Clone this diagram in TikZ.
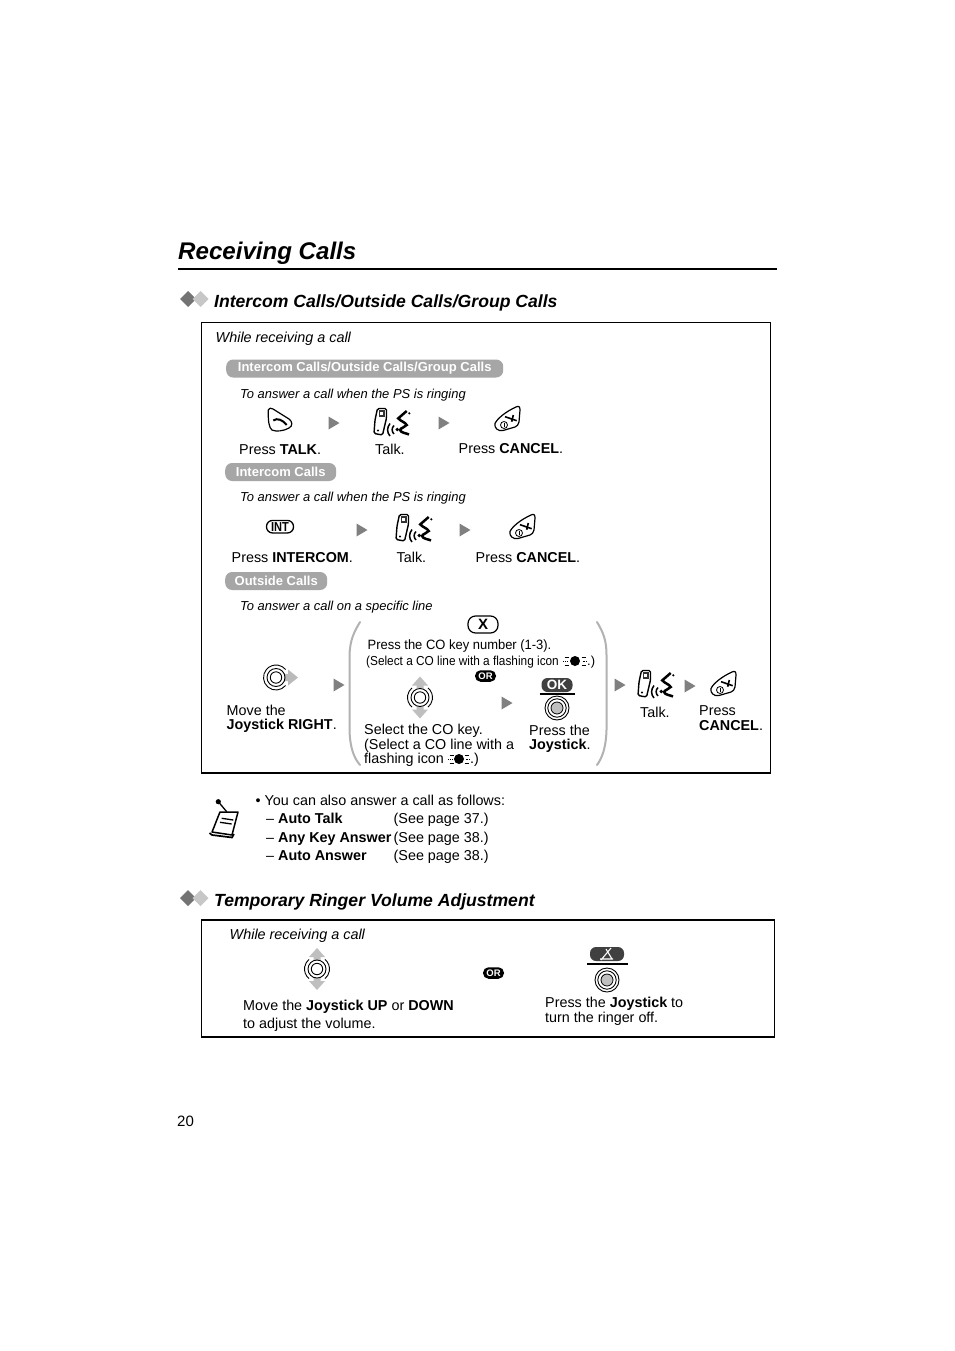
\documentclass[tikz,border=0pt]{standalone}
\usepackage{fontspec}
\setmainfont{Liberation Sans}
\newcommand{\fs}[1]{\fontsize{#1}{#1}\selectfont}
\tikzset{x=1pt,y=-1pt,
 body/.style={anchor=base west,inner sep=0pt,font=\fs{14.35}},
 ital/.style={anchor=base west,inner sep=0pt,font=\fs{14.4}\itshape},
 small/.style={anchor=base west,inner sep=0pt,font=\fs{12.95}\itshape},
 heading/.style={anchor=base west,inner sep=0pt,font=\fs{17.6}\bfseries\itshape},
 pill/.style={fill=black!35,rounded corners=7pt,text=white,font=\fs{13}\bfseries,inner sep=0pt,minimum height=18pt,anchor=west},
 ornode/.style={fill=black,rounded corners=5.5pt,text=white,font=\fs{9.5}\bfseries,inner sep=0pt,minimum width=21pt,minimum height=11.5pt},
 panel/.style={draw=black,line width=1.2pt},
 brace/.style={draw=black!30,line width=2pt,line cap=round}
}
\newcommand{\tri}[2]{\fill[black!50] (#1-5.5,#2-6.5) -- (#1+5.5,#2) -- (#1-5.5,#2+6.5) -- cycle;}
\newcommand{\dia}[2]{\fill[black!55] (#1-8,#2) -- (#1,#2-8) -- (#1+8,#2) -- (#1,#2+8) -- cycle;
 \fill[black!22] (#1+4.5,#2) -- (#1+12.5,#2-8) -- (#1+20.5,#2) -- (#1+12.5,#2+8) -- cycle;}
\newcommand{\joyin}[2]{\draw[line width=.9pt] (#1,#2) circle (5.7) (#1,#2) circle (9);}
\newcommand{\joyud}[2]{\draw[line width=.9pt] (#1,#2) ++(-50:12.5) arc (-50:50:12.5);
 \draw[line width=.9pt] (#1,#2) ++(130:12.5) arc (130:230:12.5);
 \fill[black!25] (#1-8,#2-12) -- (#1,#2-21) -- (#1+8,#2-12) -- (#1+3.5,#2-12) -- (#1+3.5,#2-9) -- (#1-3.5,#2-9) -- (#1-3.5,#2-12) -- cycle;
 \fill[black!25] (#1-8,#2+12) -- (#1,#2+21) -- (#1+8,#2+12) -- (#1+3.5,#2+12) -- (#1+3.5,#2+9) -- (#1-3.5,#2+9) -- (#1-3.5,#2+12) -- cycle;
 \joyin{#1}{#2}}
\newcommand{\joyr}[2]{\draw[line width=.9pt] (#1,#2) ++(40:12.5) arc (40:320:12.5);
 \fill[black!27] (#1+12,#2-8) -- (#1+22,#2) -- (#1+12,#2+8) -- (#1+12,#2+3.5) -- (#1+9,#2+3.5) -- (#1+9,#2-3.5) -- (#1+12,#2-3.5) -- cycle;
 \joyin{#1}{#2}}
\newcommand{\joypush}[2]{\draw[line width=.9pt] (#1,#2) circle (12) (#1,#2) circle (9.2);
 \fill[black!25,draw=black,line width=.8pt] (#1,#2) circle (6);}
\newcommand{\talkkey}[2]{\begin{scope}[shift={(#1,#2)}]
 \draw[line width=1.2pt,line join=round] (-11.7,-9) .. controls (-11,-11.5) and (-9,-11) .. (-7,-10) -- (9,0) .. controls (12.5,2.5) and (13,7) .. (9,9) .. controls (4,12) and (-4,13) .. (-8,11) .. controls (-11,9) and (-12,2) .. (-11.7,-9) -- cycle;
 \draw[line width=2pt] (-6.7,1.5) .. controls (-3,-1.5) and (3,1) .. (6.7,6);
 \end{scope}}
\newcommand{\cancelkey}[2]{\begin{scope}[shift={(#1,#2)}]
 \draw[line width=1.2pt,line join=round] (8,-12) .. controls (11,-13.5) and (12,-12) .. (12,-9) -- (11,3) .. controls (10.5,6) and (9,7) .. (7,8) -- (-5,11.5) .. controls (-10,12.5) and (-14,9) .. (-13,4.5) .. controls (-11,0) and (-3,-7) .. (8,-12) -- cycle;
 \draw[line width=.8pt] (-4,6) circle (3.5);
 \draw[line width=.8pt] (-4,4.3) -- (-4,7.7);
 \draw[line width=1.6pt] (-3,-2.3) -- (8.7,1.7);
 \draw[line width=1.6pt] (5.3,-4) -- (3.7,2.7);
 \end{scope}}
\newcommand{\talkicon}[2]{\begin{scope}[shift={(#1,#2)}]
 \draw[line width=1.4pt,rounded corners=1.5pt] (-13.5,-14.5) -- (-4.5,-14.5) -- (-4.5,-5) -- (-8.5,12) -- (-17,10.5) -- (-16,-3) -- cycle;
 \fill[black!80] (-12.2,-13) rectangle (-6,-6);
 \fill[white] (-10.6,-11.5) rectangle (-7.8,-8.5);
 \fill (-13,7.5) circle (1.1);
 \draw[line width=1.5pt] (-1,0.5) .. controls (-4.2,4.5) and (-4.2,9.5) .. (-1,13);
 \draw[line width=1.5pt] (3,2.5) .. controls (.5,5) and (.5,8.5) .. (3,11);
 \fill (6.3,6.5) circle (1.9);
 \draw[line width=2.5pt,line join=miter] (15.7,-12) -- (7.3,-4.7) .. controls (9,-2) and (14,-1) .. (15.7,2) .. controls (14,4.5) and (10,4.5) .. (9,7) .. controls (10,10) and (15,10) .. (18,11.5);
 \fill (18.3,-9.7) circle (1.2);
 \end{scope}}
\newcommand{\flash}[3]{\fill (#1,#2) circle (5);
 \foreach \a/\b in {1.5/-4,0/0,1.5/4}{\draw[line width=.7pt,dash pattern=on 1.3pt off .6pt] (#1-#3+\a,#2+\b) -- +(4,0); \draw[line width=.7pt,dash pattern=on 1.3pt off .6pt] (#1+#3-\a,#2+\b) -- +(-4,0);}}
\begin{document}
\begin{tikzpicture}
\useasboundingbox (0,0) rectangle (954,1351);
\fill[white] (0,0) rectangle (954,1351);

\node[anchor=base west,inner sep=0pt,font=\fs{24.1}\bfseries\itshape] (title) at (178,259.5) {Receiving Calls};
\coordinate (ruleL) at (178,269); \coordinate (ruleR) at (777,269);
\draw[line width=2pt] (ruleL) -- (ruleR);

\dia{188}{299}
\node[heading] (h1) at (214,307) {Intercom Calls/Outside Calls/Group Calls};
\draw[panel] (201.5,322.5) rectangle (770.5,773);
\node[ital] (w1) at (215.5,342) {While receiving a call};

\node[pill,minimum width=277pt] (p1) at (226,368.5) {Intercom Calls/Outside Calls/Group Calls};
\node[small] (a1) at (240,398) {To answer a call when the PS is ringing};
\talkkey{280}{419}
\tri{334}{423}
\talkicon{391}{423}
\tri{444}{423}
\cancelkey{508}{419}
\node[body] (t1) at (239,454) {Press \textbf{TALK}.};
\node[body] (t2) at (375,454) {Talk.};
\node[body] (t3) at (458.5,453) {Press \textbf{CANCEL}.};

\node[pill,minimum width=111pt] (p2) at (225,472) {Intercom Calls};
\node[small] (a2) at (240,501) {To answer a call when the PS is ringing};
\node[draw=black,line width=1.3pt,rounded corners=6pt,minimum width=27pt,minimum height=12.5pt,inner sep=0pt,font=\fs{13}\bfseries] (int) at (280,526.7) {\addfontfeature{FakeStretch=.85}INT};
\tri{362}{530}
\talkicon{413}{529}
\tri{465}{530}
\cancelkey{523}{527}
\node[body] (t4) at (231.5,562) {Press \textbf{INTERCOM}.};
\node[body] (t5) at (396.5,562) {Talk.};
\node[body] (t6) at (475.5,562) {Press \textbf{CANCEL}.};

\node[pill,minimum width=102pt] (p3) at (225,581) {Outside Calls};
\node[small] (a3) at (240,610) {To answer a call on a specific line};

\joyr{276}{677.5}
\tri{339}{685}
\node[body] (t7) at (226.5,715) {Move the};
\node[body] (t8) at (226.5,729) {\textbf{Joystick RIGHT}.};

\draw[brace] (360,622) .. controls (354,632) and (350,640) .. (349.5,655) -- (349.5,730) .. controls (350,748) and (354,758) .. (360,765);
\draw[brace] (597,622) .. controls (603,632) and (606.5,640) .. (606.5,655) -- (606.5,730) .. controls (606,748) and (602,758) .. (597,765);

\node[draw=black,line width=1.2pt,rounded corners=7.5pt,minimum width=30pt,minimum height=17pt,inner sep=0pt,font=\fs{15}\bfseries] (xkey) at (483,624.5) {X};
\node[anchor=base west,inner sep=0pt,font=\fs{13.5}] (c1) at (367.5,649) {\addfontfeature{FakeStretch=.96}Press the CO key number (1-3).};
\node[anchor=base west,inner sep=0pt,font=\fs{13}] (c2) at (366,665) {\addfontfeature{FakeStretch=.91}(Select a CO line with a flashing icon};
\flash{575}{661}{12}
\node[anchor=base west,inner sep=0pt,font=\fs{13}] (c3) at (587,665) {.)};
\node[ornode] (or1) at (485.5,676) {OR};

\joyud{420}{697.5}
\tri{507}{703}
\node[fill=black!75,rounded corners=6pt,text=white,font=\fs{13.5}\bfseries,inner sep=0pt,minimum width=31pt,minimum height=14pt] (ok) at (557,685) {OK};
\coordinate (okL) at (539.5,694); \coordinate (okR) at (575,694);
\draw[line width=1.6pt] (okL) -- (okR);
\joypush{557}{708}
\node[body] (c4) at (364,734.5) {Select the CO key.};
\node[body] (c5) at (364,749) {(Select a CO line with a};
\node[body] (c6) at (364,763) {flashing icon};
\flash{459}{759}{11}
\node[body] (c7) at (470,763) {.)};
\node[body] (c8) at (529,735) {Press the};
\node[body] (c9) at (529,749) {\textbf{Joystick}.};

\tri{620}{685}
\talkicon{655}{685}
\tri{690}{686}
\cancelkey{724}{684}
\node[body] (t9) at (640,717) {Talk.};
\node[body] (t10) at (699,715) {Press};
\node[body] (t11) at (699,730) {\textbf{CANCEL}.};

% note
\begin{scope}[shift={(224,819)}]
\draw[line width=1.5pt,line join=round] (-4,-7) -- (14,-7) -- (8,16) -- (-12,13) .. controls (-9,6) and (-7,0) .. (-4,-7) -- cycle;
\draw[line width=1.7pt] (-14.5,14) -- (-12,16) -- (8,18.5) -- (10,15);
\draw[line width=1.3pt] (-2.3,-.7) -- (9.3,1) (-4,3.3) -- (7.7,5);
\draw[line width=1.3pt] (-5.7,-17.3) -- (2.7,-7.3);
\fill (-5.7,-17.3) circle (2.6);
\end{scope}
\node[body] (n1) at (255.5,805) {• You can also answer a call as follows:};
\node[body] (n2) at (266,823) {– \textbf{Auto Talk}};
\node[body] (n3) at (393.5,823) {(See page 37.)};
\node[body] (n4) at (266,842) {– \textbf{Any Key Answer}};
\node[body] (n5) at (393.5,842) {(See page 38.)};
\node[body] (n6) at (266,860) {– \textbf{Auto Answer}};
\node[body] (n7) at (393.5,860) {(See page 38.)};

\dia{188}{898}
\node[heading] (h2) at (214,906) {Temporary Ringer Volume Adjustment};
\draw[panel] (201.5,920) rectangle (774.5,1037);
\node[ital] (w2) at (229.5,939) {While receiving a call};
\joyud{317}{969}
\node[ornode] (or2) at (493.5,973) {OR};
\node[fill=black!75,rounded corners=6pt,minimum width=34pt,minimum height=14pt,inner sep=0pt] (mute) at (607,954) {};
\draw[white,line width=1.1pt] (601,960) -- (611,948) (606,949) -- (612,959) (600,959) -- (613,959);
\coordinate (mL) at (587,964); \coordinate (mR) at (628,964);
\draw[line width=1.6pt] (mL) -- (mR);
\joypush{607}{980}
\node[body] (m1) at (243,1010) {Move the \textbf{Joystick UP} or \textbf{DOWN}};
\node[body] (m2) at (243,1028) {to adjust the volume.};
\node[body] (m3) at (545,1007) {Press the \textbf{Joystick} to};
\node[body] (m4) at (545,1022) {turn the ringer off.};

\node[anchor=base west,inner sep=0pt,font=\fs{15}] (pg) at (177,1126) {20};
\end{tikzpicture}
\end{document}
